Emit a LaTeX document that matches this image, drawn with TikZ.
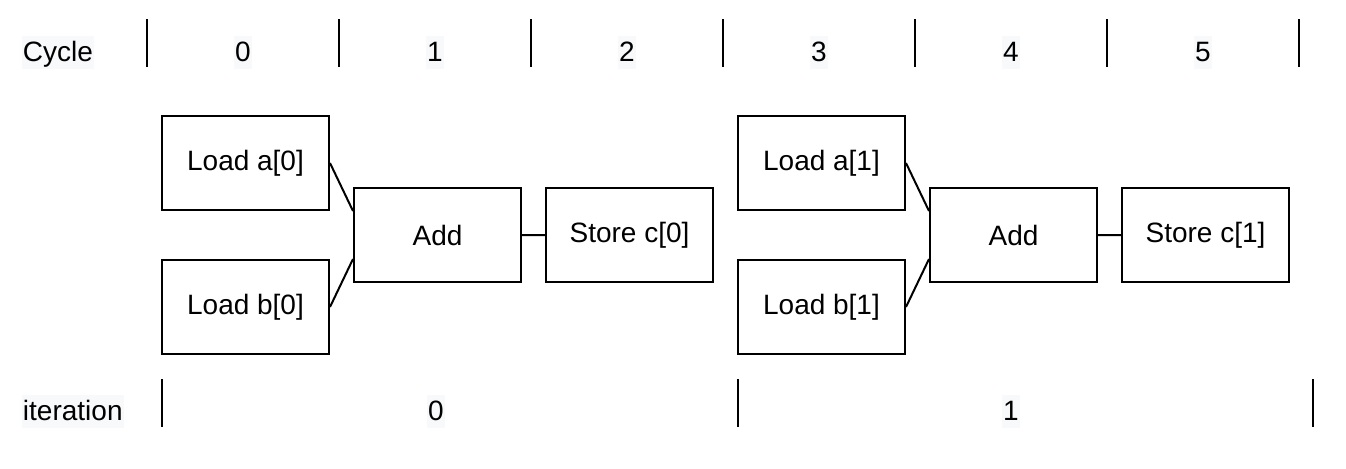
\documentclass[tikz,border=0pt]{standalone}
\usepackage{fontspec}
\setmainfont{Liberation Sans}
\usepackage{tikz}
\usetikzlibrary{calc}
\definecolor{labelbg}{HTML}{F8F9FA}

\begin{document}
\begin{tikzpicture}[x=0.5pt,y=-0.5pt,line width=1pt,
  font=\fontsize{14}{16}\selectfont,
  op/.style={draw,fill=white,minimum width=83.5pt,minimum height=47pt,inner sep=0pt},
  lbl/.style={fill=labelbg,inner xsep=0.5pt,inner ysep=0pt,text height=12.5pt,text depth=4pt,anchor=base}]
\useasboundingbox (0,0) rectangle (1346,468);
% cycle row
\node[lbl,anchor=base west](CYCLE) at (21,61){Cycle};
\node[lbl](C0) at (243,61){0};
\node[lbl](C1) at (435,61){1};
\node[lbl](C2) at (627,61){2};
\node[lbl](C3) at (819,61){3};
\node[lbl](C4) at (1011,61){4};
\node[lbl](C5) at (1203,61){5};
\draw (147,19) -- +(0,48)
  (339,19) -- +(0,48)
  (531,19) -- +(0,48)
  (723,19) -- +(0,48)
  (915,19) -- +(0,48)
  (1107,19) -- +(0,48)
  (1299,19) -- +(0,48);
% iteration 0
\draw (245.5,163) node[op](LOADA0){Load a[0]}
  (245.5,307) node[op](LOADB0){Load b[0]}
  (437.5,235) node[op](ADD0){Add}
  (629.5,235) node[op](STORE0){Store c[0]}
  (LOADA0.east) -- ($(ADD0.north west)!.25!(ADD0.south west)$)
  (LOADB0.east) -- ($(ADD0.north west)!.75!(ADD0.south west)$)
  (ADD0.east) -- (STORE0.west);
% iteration 1
\draw (821.5,163) node[op](LOADA1){Load a[1]}
  (821.5,307) node[op](LOADB1){Load b[1]}
  (1013.5,235) node[op](ADD1){Add}
  (1205.5,235) node[op](STORE1){Store c[1]}
  (LOADA1.east) -- ($(ADD1.north west)!.25!(ADD1.south west)$)
  (LOADB1.east) -- ($(ADD1.north west)!.75!(ADD1.south west)$)
  (ADD1.east) -- (STORE1.west);
% iteration row
\node[lbl,anchor=base west](ITER) at (21,420){iteration};
\node[lbl](I0) at (436,420){0};
\node[lbl](I1) at (1011,420){1};
\draw (162,379) -- +(0,48)
  (738,379) -- +(0,48)
  (1313,379) -- +(0,48);
\end{tikzpicture}
\end{document}
